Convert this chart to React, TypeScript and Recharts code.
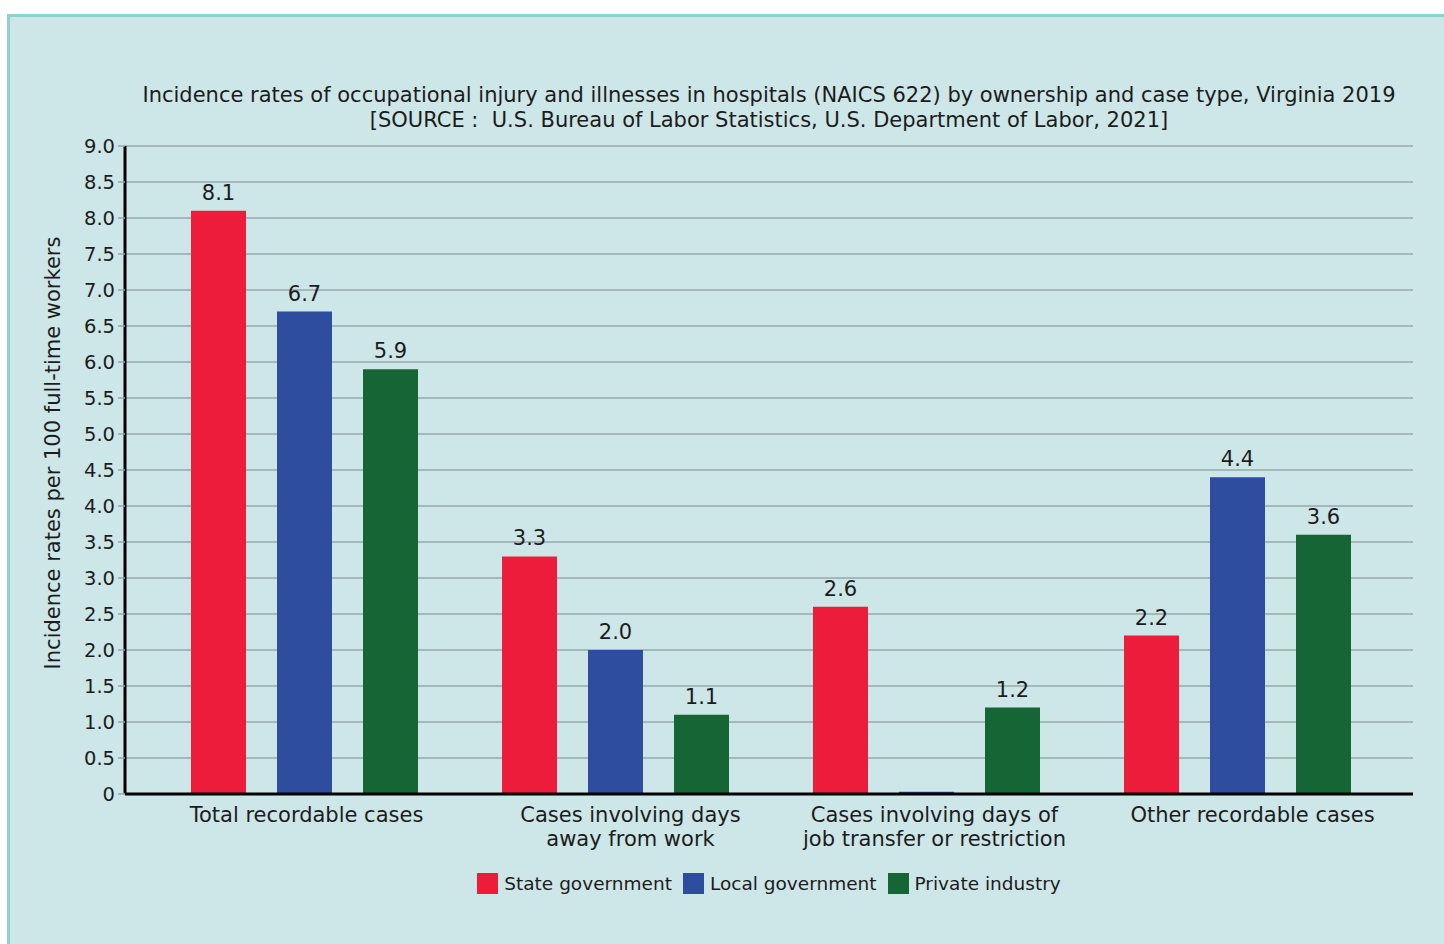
import { BarChart, Bar, XAxis, YAxis, CartesianGrid, LabelList, Label } from "recharts";

const CATEGORIES = [
  "Total recordable cases",
  "Cases involving days\naway from work",
  "Cases involving days of\njob transfer or restriction",
  "Other recordable cases",
];
const STATE_GOV = [8.1, 3.3, 2.6, 2.2];
const LOCAL_GOV = [6.7, 2.0, 0.03, 4.4];
const PRIVATE_IND = [5.9, 1.1, 1.2, 3.6];
const Y_TICKS = [0, 0.5, 1, 1.5, 2, 2.5, 3, 3.5, 4, 4.5, 5, 5.5, 6, 6.5, 7, 7.5, 8, 8.5, 9];
// category labels in the original sit a little right of their bar groups
const TICK_SHIFT = [2, 15, 8, 15];

const SERIES = [
  { key: "state", name: "State government", color: "#ed1c3a" },
  { key: "local", name: "Local government", color: "#2f4d9f" },
  { key: "priv", name: "Private industry", color: "#166535" },
];

const FONT = '"DejaVu Sans", Verdana, sans-serif';
const INK = "#1c1c1c";

const data = CATEGORIES.map((c, i) => ({
  cat: c,
  state: STATE_GOV[i],
  local: LOCAL_GOV[i],
  priv: PRIVATE_IND[i],
}));

const fmtLabel = (v: any) => (typeof v === "number" && v > 0.1 ? v.toFixed(1) : "");

function CatTick(props: any) {
  const { x, y, payload, index } = props;
  const lines = String(payload.value).split("\n");
  const cx = x + (TICK_SHIFT[index] || 0);
  return (
    <text x={cx} y={y} textAnchor="middle" fill={INK} fontSize={21} fontFamily={FONT}>
      {lines.map((l, i) => (
        <tspan key={i} x={cx} dy={i === 0 ? 26 : 24}>
          {l}
        </tspan>
      ))}
    </text>
  );
}

export default function App() {
  return (
    <div style={{ position: "fixed", left: 0, top: 0, width: 1444, height: 944, overflow: "hidden", background: "#fff", fontFamily: FONT }}>
      <div
        style={{
          position: "absolute",
          left: 7,
          top: 14,
          width: 1500,
          height: 1000,
          background: "#cde6e7",
          borderLeft: "3px solid #8fd0d0",
          borderTop: "3px solid #8fd0d0",
        }}
      />
      <div
        style={{
          position: "absolute",
          left: 125,
          top: 83,
          width: 1288,
          textAlign: "center",
          fontSize: 21,
          lineHeight: "25px",
          color: INK,
          whiteSpace: "nowrap",
        }}
      >
        <div>Incidence rates of occupational injury and illnesses in hospitals (NAICS 622) by ownership and case type, Virginia 2019</div>
        <div>[SOURCE :&nbsp; U.S. Bureau of Labor Statistics, U.S. Department of Labor, 2021]</div>
      </div>
      <div style={{ position: "absolute", left: 0, top: 0 }}>
        <BarChart
          width={1444}
          height={944}
          data={data}
          margin={{ top: 146, right: 31, bottom: 80, left: 65 }}
          barSize={55}
          barGap={31}
        >
          <CartesianGrid horizontal vertical={false} stroke="#97a9aa" strokeWidth={1.5} />
          <XAxis
            dataKey="cat"
            height={70}
            padding={{ left: 24, right: 20 }}
            axisLine={{ stroke: "#000", strokeWidth: 3 }}
            tickLine={false}
            tickSize={0}
            interval={0}
            tick={<CatTick />}
          />
          <YAxis
            width={60}
            domain={[0, 9]}
            ticks={Y_TICKS}
            interval={0}
            axisLine={{ stroke: "#000", strokeWidth: 3 }}
            tickLine={{ stroke: "#97a9aa", strokeWidth: 1.5 }}
            tickSize={7}
            tickMargin={3}
            tickFormatter={(v: number) => (v === 0 ? "0" : v.toFixed(1))}
            tick={{ fill: INK, fontSize: 19.5, fontFamily: FONT }}
          >
            <Label
              content={() => (
                <text
                  x={53}
                  y={453}
                  transform="rotate(-90 53 453)"
                  textAnchor="middle"
                  dominantBaseline="central"
                  fill={INK}
                  fontSize={21}
                  fontFamily={FONT}
                >
                  Incidence rates per 100 full-time workers
                </text>
              )}
            />
          </YAxis>
          {SERIES.map((s) => (
            <Bar key={s.key} dataKey={s.key} name={s.name} fill={s.color} isAnimationActive={false}>
              <LabelList
                dataKey={s.key}
                position="top"
                offset={11}
                formatter={fmtLabel}
                fill={INK}
                fontSize={21}
                fontFamily={FONT}
              />
            </Bar>
          ))}
        </BarChart>
      </div>
      <div
        style={{
          position: "absolute",
          left: 125,
          top: 873,
          width: 1288,
          display: "flex",
          justifyContent: "center",
          alignItems: "center",
          gap: 11,
          fontSize: 18.5,
          color: INK,
        }}
      >
        {SERIES.map((s) => (
          <div key={s.key} style={{ display: "flex", alignItems: "center" }}>
            <span style={{ display: "inline-block", width: 21, height: 21, background: s.color, marginRight: 6 }} />
            <span>{s.name}</span>
          </div>
        ))}
      </div>
    </div>
  );
}
